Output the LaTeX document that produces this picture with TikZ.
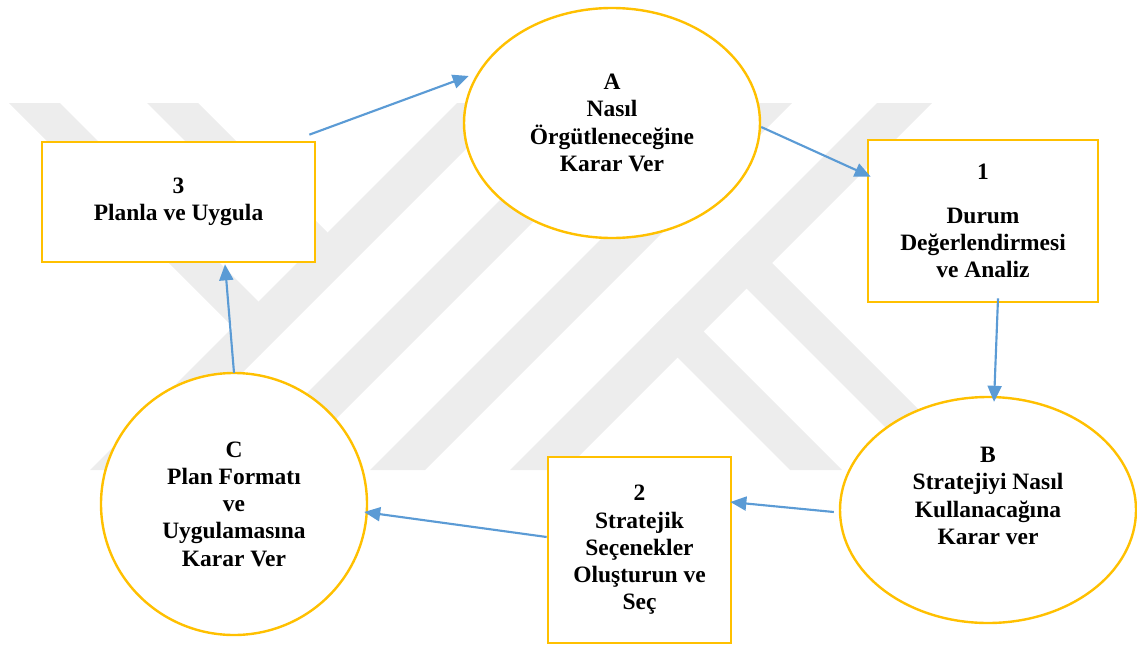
\documentclass[tikz,border=0pt]{standalone}
\usepackage{fontspec}
\setmainfont{Liberation Serif}
\usetikzlibrary{shapes.geometric,arrows.meta,calc}
\definecolor{gold}{HTML}{FFC000}
\definecolor{arrblue}{HTML}{5B9BD5}
\definecolor{wm}{HTML}{EDEDED}
\begin{document}
\begin{tikzpicture}[x=0.75pt,y=-0.75pt,
  lbl/.style={font=\bfseries\fontsize{17.6}{20.4}\selectfont, align=center, text=black},
  ell/.style={ellipse, draw=gold, line width=1.8pt, fill=white, inner sep=0pt, lbl},
  boxn/.style={rectangle, draw=gold, line width=2pt, fill=white, inner sep=0pt, lbl},
  arr/.style={draw=arrblue, line width=1.6pt, -{Triangle[length=12pt,width=10.5pt]}},
  band/.style={fill=wm, draw=none}]
\useasboundingbox (0,0) rectangle (1137,646);
% watermark
\fill[band] (457,103) -- (512,103) -- (145,470) -- (90,470) -- cycle;
\fill[band] (597,103) -- (652,103) -- (285,470) -- (230,470) -- cycle;
\fill[band] (737,103) -- (792,103) -- (425,470) -- (370,470) -- cycle;
\fill[band] (877,103) -- (932,103) -- (565,470) -- (510,470) -- cycle;
\fill[band] (9,103) -- (60,103) -- (258.5,301.5) -- (260.5,354.5) -- cycle;
\fill[band] (147,103) -- (198,103) -- (327.5,232.5) -- (329.5,285.5) -- cycle;
\fill[band] (650,330) -- (676,304) -- (842,470) -- (790,470) -- cycle;
\fill[band] (719,261) -- (744.5,235.5) -- (979,470) -- (928,470) -- cycle;
% nodes
\node[ell, minimum width=222pt, minimum height=172.5pt] (A) at (612,123) {A\\Nasıl\\Örgütleneceğine\\Karar Ver};
\node[ell, minimum width=222pt, minimum height=169.5pt] (B) at (988,510) {};
\node[lbl] (Bt) at (988,496) {B\\Stratejiyi Nasıl\\Kullanacağına\\Karar ver};
\node[ell, minimum width=199.5pt, minimum height=196.5pt] (C) at (234,504) {C\\Plan Formatı\\ve\\Uygulamasına\\Karar Ver};
\node[boxn, minimum width=172.5pt, minimum height=121.5pt] (b1) at (983,221) {1\\[12pt]Durum\\Değerlendirmesi\\ve Analiz};
\node[boxn, minimum width=204.75pt, minimum height=90pt] (b3) at (178.5,202) {3\\Planla ve Uygula};
\node[boxn, minimum width=137.25pt, minimum height=139.5pt] (b2) at (639.5,550) {2\\Stratejik\\Seçenekler\\Oluşturun ve\\Seç};
% connectors
\draw[arr] ($(b3.north east)+(-7,-6)$) -- ($(A.west)+(6,-47)$);
\draw[arr] ($(A.east)+(0,4)$) -- ($(b1.north west)+(4,38)$);
\draw[arr] ($(b1.south)+(15,-5)$) -- ($(B.north)+(6,6)$);
\draw[arr] ($(B.west)+(-5,2)$) -- ($(b2.east)+(-2,-48)$);
\draw[arr] ($(b2.west)+(0,-13)$) -- ($(C.east)+(-4,8)$);
\draw[arr] ($(C.north)+(0,1)$) -- ($(b3.south)+(46.5,1)$);
\end{tikzpicture}
\end{document}
